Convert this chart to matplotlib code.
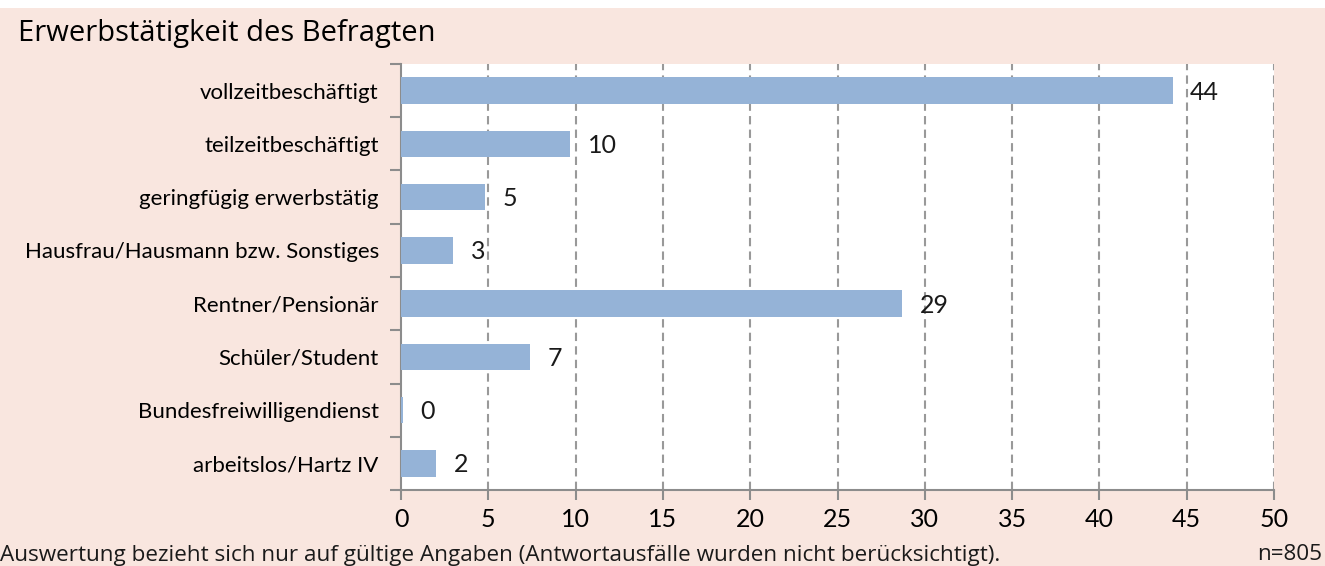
import matplotlib
matplotlib.use("Agg")
import matplotlib.pyplot as plt
from matplotlib.patches import Rectangle

# Daten
categories = [
    "vollzeitbeschäftigt",
    "teilzeitbeschäftigt",
    "geringfügig erwerbstätig",
    "Hausfrau/Hausmann bzw. Sonstiges",
    "Rentner/Pensionär",
    "Schüler/Student",
    "Bundesfreiwilligendienst",
    "arbeitslos/Hartz IV",
]
values = [44.2, 9.7, 4.8, 3.0, 28.7, 7.4, 0.1, 2.0]
value_labels = ["44", "10", "5", "3", "29", "7", "0", "2"]
xticks = list(range(0, 55, 5))

title = "Erwerbstätigkeit des Befragten"
footnote = "Auswertung bezieht sich nur auf gültige Angaben (Antwortausfälle wurden nicht berücksichtigt)."
n_text = "n=805"

narrow = ["Lato", "DejaVu Sans"]
normal = ["Open Sans", "DejaVu Sans"]

bg = "#F9E6DF"
bar_color = "#95B3D7"
axis_color = "#8C8C8C"

fig = plt.figure(figsize=(13.25, 5.66), dpi=100, facecolor=bg)
# weißer Streifen oben
fig.patches.append(Rectangle((0, 1 - 8 / 566), 1, 8 / 566, transform=fig.transFigure,
                             facecolor="white", edgecolor="none", zorder=0))

ax = fig.add_axes([401 / 1325, 76 / 566, 873 / 1325, 426 / 566])
ax.set_facecolor("white")

y = list(range(len(categories)))
ax.barh(y, values, height=0.5, color=bar_color, edgecolor="none", zorder=3)
for yi, v, lab in zip(y, values, value_labels):
    ax.text(v + 1.0, yi + 0.03, lab, va="center", ha="left", fontsize=18,
            family=narrow, color="#1a1a1a", zorder=4)

ax.set_xlim(0, 50)
ax.set_ylim(len(categories) - 0.5, -0.5)

ax.set_xticks(xticks)
ax.set_xticklabels([str(t) for t in xticks], family=narrow, fontsize=18)
ax.set_yticks([i - 0.5 for i in range(len(categories) + 1)])
ax.set_yticklabels([])
ax.set_yticks(y, minor=True)
ax.set_yticklabels(categories, minor=True, family=narrow, fontsize=16)
ax.tick_params(axis="y", which="minor", length=0, pad=16)
ax.tick_params(axis="y", which="major", length=8, width=1.5, color=axis_color)
ax.tick_params(axis="x", length=7, width=1.5, color=axis_color, pad=6)

for t in xticks[1:]:
    ax.axvline(t, color="#999999", lw=1.5, linestyle=(0, (4, 2.5)), zorder=1)

for s in ["top", "right"]:
    ax.spines[s].set_visible(False)
for s in ["left", "bottom"]:
    ax.spines[s].set_color(axis_color)
    ax.spines[s].set_linewidth(1.5)

fig.text(18 / 1325, 1 - 33 / 566, title, fontsize=21, family=normal, weight="medium",
         va="center", ha="left", color="black")
fig.text(0, 1 - 555 / 566, footnote, fontsize=16.2, family=normal,
         va="center", ha="left", color="#1a1a1a")
fig.text(1322 / 1325, 1 - 555 / 566, n_text, fontsize=16.2, family=normal,
         va="center", ha="right", color="#1a1a1a")

fig.savefig("out.png", dpi=100, facecolor=bg)
